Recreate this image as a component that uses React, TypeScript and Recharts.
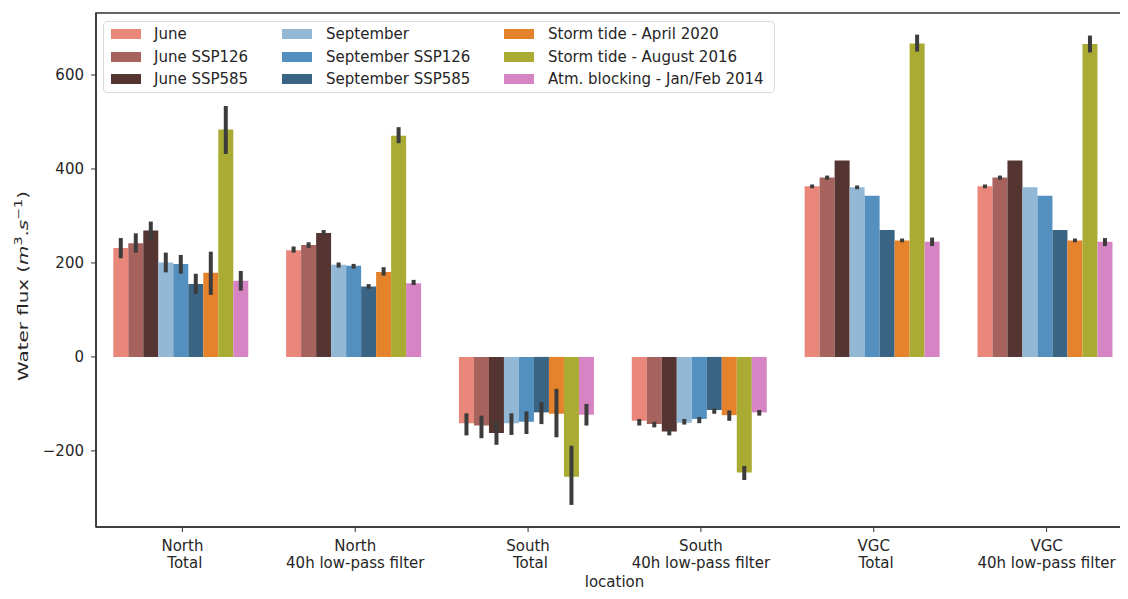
import React from 'react';
import { BarChart, Bar, XAxis, YAxis, ErrorBar, Legend, Label, ReferenceArea } from 'recharts';

// Locations on the x axis (a leading space nudges the second line like the source labels)
const categories = [
  'North\n Total',
  'North\n40h low-pass filter',
  'South\n Total',
  'South\n40h low-pass filter',
  'VGC\n Total',
  'VGC\n40h low-pass filter',
];

const yDomain = [-362, 732];
const yTicks = [-200, 0, 200, 400, 600];

// Mean water flux per scenario, with the lower / upper bounds of the confidence interval
const june = [232, 227, -141, -136, 363, 363];
const juneLow = [210, 222, -167, -146, 359, 359];
const juneHigh = [253, 235, -120, -132, 367, 367];

const juneSsp126 = [242, 238, -146, -143, 382, 382];
const juneSsp126Low = [222, 232, -173, -150, 377, 377];
const juneSsp126High = [263, 244, -125, -138, 386, 386];

const juneSsp585 = [269, 264, -162, -159, 418, 418];
const juneSsp585Low = [249, 260, -187, -167, 418, 418];
const juneSsp585High = [288, 270, -138, -155, 418, 418];

const september = [201, 196, -141, -140, 361, 361];
const septemberLow = [180, 190, -166, -144, 357, 361];
const septemberHigh = [222, 201, -120, -132, 365, 361];

const septemberSsp126 = [198, 194, -138, -132, 343, 343];
const septemberSsp126Low = [177, 188, -164, -141, 343, 343];
const septemberSsp126High = [217, 198, -116, -128, 343, 343];

const septemberSsp585 = [155, 150, -118, -113, 270, 270];
const septemberSsp585Low = [134, 145, -143, -121, 270, 270];
const septemberSsp585High = [177, 155, -96, -110, 270, 270];

const stormApril2020 = [179, 181, -121, -124, 248, 248];
const stormApril2020Low = [132, 173, -171, -136, 244, 244];
const stormApril2020High = [224, 191, -68, -114, 252, 252];

const stormAugust2016 = [484, 471, -255, -246, 667, 666];
const stormAugust2016Low = [432, 455, -315, -262, 650, 648];
const stormAugust2016High = [534, 489, -189, -232, 686, 684];

const atmBlocking2014 = [162, 157, -123, -118, 245, 245];
const atmBlocking2014Low = [141, 153, -146, -125, 236, 236];
const atmBlocking2014High = [183, 164, -100, -113, 254, 253];

const series = [
  { key: 'june', name: 'June', color: '#e8877a', mean: june, low: juneLow, high: juneHigh },
  { key: 'juneSsp126', name: 'June SSP126', color: '#a6625d', mean: juneSsp126, low: juneSsp126Low, high: juneSsp126High },
  { key: 'juneSsp585', name: 'June SSP585', color: '#553532', mean: juneSsp585, low: juneSsp585Low, high: juneSsp585High },
  { key: 'september', name: 'September', color: '#93b8d6', mean: september, low: septemberLow, high: septemberHigh },
  { key: 'septemberSsp126', name: 'September SSP126', color: '#5390bf', mean: septemberSsp126, low: septemberSsp126Low, high: septemberSsp126High },
  { key: 'septemberSsp585', name: 'September SSP585', color: '#3a6483', mean: septemberSsp585, low: septemberSsp585Low, high: septemberSsp585High },
  { key: 'stormApril2020', name: 'Storm tide - April 2020', color: '#e5832d', mean: stormApril2020, low: stormApril2020Low, high: stormApril2020High },
  { key: 'stormAugust2016', name: 'Storm tide - August 2016', color: '#aaab33', mean: stormAugust2016, low: stormAugust2016Low, high: stormAugust2016High },
  { key: 'atmBlocking2014', name: 'Atm. blocking - Jan/Feb 2014', color: '#d684c3', mean: atmBlocking2014, low: atmBlocking2014Low, high: atmBlocking2014High },
];

const data = categories.map((location, i) => {
  const row: Record<string, any> = { location };
  series.forEach((s) => {
    row[s.key] = s.mean[i];
    row[s.key + 'Ci'] = [s.mean[i] - s.low[i], s.high[i] - s.mean[i]];
  });
  return row;
});

const FONT = '"DejaVu Sans", sans-serif';
const TEXT = '#262626';
const AXIS = '#333333';

const LocationTick = (props: any) => {
  const { x, y, payload } = props;
  const lines = String(payload.value).split('\n');
  return (
    <text x={x} y={y} textAnchor="middle" fontFamily={FONT} fontSize={15} fill={TEXT} style={{ whiteSpace: 'pre' }}>
      {lines.map((line, i) => (
        <tspan key={i} x={x} dy={17}>
          {line}
        </tspan>
      ))}
    </text>
  );
};

// Rotated y label; stretched along its length like the exported figure
const WaterFluxLabel = (props: any) => {
  const vb = props.viewBox || { x: 0, y: 13, width: 96, height: 514 };
  const cx = 28;
  const cy = vb.y + vb.height / 2 + 16;
  return (
    <text
      transform={`translate(${cx},${cy}) rotate(-90) scale(1.42,1)`}
      textAnchor="middle"
      fontFamily={FONT}
      fontSize={14}
      fill={TEXT}
    >
      <tspan>Water flux (</tspan>
      <tspan fontStyle="italic">m</tspan>
      <tspan fontSize={10} dy={-6}>3</tspan>
      <tspan dy={6}>.</tspan>
      <tspan fontStyle="italic">s</tspan>
      <tspan fontSize={10} dy={-6}>−1</tspan>
      <tspan dy={6}>)</tspan>
    </text>
  );
};

const LegendBox = () => {
  const colX = [7, 178, 400];
  const textX = [50, 222, 444];
  const rowY = [12, 35, 57];
  return (
    <div
      style={{
        position: 'relative',
        width: 672,
        height: 72,
        boxSizing: 'border-box',
        border: '1px solid #d9d9d9',
        borderRadius: 4,
        background: 'rgba(255,255,255,0.85)',
        fontFamily: FONT,
        fontSize: 15,
        color: TEXT,
      }}
    >
      {series.map((s, i) => {
        const col = Math.floor(i / 3);
        const row = i % 3;
        return (
          <React.Fragment key={s.key}>
            <div
              style={{
                position: 'absolute',
                left: colX[col],
                top: rowY[row] - 5,
                width: 30,
                height: 10,
                background: s.color,
              }}
            />
            <div
              style={{
                position: 'absolute',
                left: textX[col],
                top: rowY[row] - 10,
                lineHeight: '20px',
                whiteSpace: 'nowrap',
              }}
            >
              {s.name}
            </div>
          </React.Fragment>
        );
      })}
    </div>
  );
};

export default function App() {
  return (
    <div style={{ margin: -8, width: 1128, height: 599, overflow: 'hidden', position: 'relative', background: '#fff' }}>
      <BarChart
        width={1140}
        height={599}
        data={data}
        margin={{ top: 13, right: 7, left: 0, bottom: 12 }}
        barCategoryGap="10%"
        barGap={0}
        style={{ fontFamily: FONT }}
      >
        {/* axes frame (top and right spines) */}
        <ReferenceArea
          y1={yDomain[0]}
          y2={yDomain[1]}
          fill="none"
          fillOpacity={0}
          stroke={AXIS}
          strokeWidth={1.5}
          ifOverflow="visible"
        />
        <XAxis
          dataKey="location"
          height={60}
          interval={0}
          tick={<LocationTick />}
          tickSize={5}
          axisLine={{ stroke: AXIS, strokeWidth: 1.5 }}
          tickLine={{ stroke: AXIS, strokeWidth: 1 }}
        >
          <Label value="location" position="insideBottom" offset={0} fontSize={15} fill={TEXT} fontFamily={FONT} />
        </XAxis>
        <YAxis
          width={96}
          domain={yDomain}
          ticks={yTicks}
          allowDataOverflow
          tickSize={5}
          tickMargin={7}
          tickFormatter={(v: number) => String(v).replace('-', '\u2212')}
          tick={{ fontSize: 15, fill: TEXT, fontFamily: FONT }}
          axisLine={{ stroke: AXIS, strokeWidth: 1.5 }}
          tickLine={{ stroke: AXIS, strokeWidth: 1 }}
        >
          <Label content={<WaterFluxLabel />} />
        </YAxis>
        <Legend
          content={<LegendBox />}
          layout="horizontal"
          verticalAlign="middle"
          align="center"
          wrapperStyle={{ top: 21, left: 103, width: 672, height: 72 }}
        />
        {series.map((s) => (
          <Bar key={s.key} dataKey={s.key} name={s.name} fill={s.color} isAnimationActive={false}>
            <ErrorBar dataKey={s.key + 'Ci'} width={0} strokeWidth={4} stroke="#3c3c3c" direction="y" />
          </Bar>
        ))}
      </BarChart>
    </div>
  );
}
